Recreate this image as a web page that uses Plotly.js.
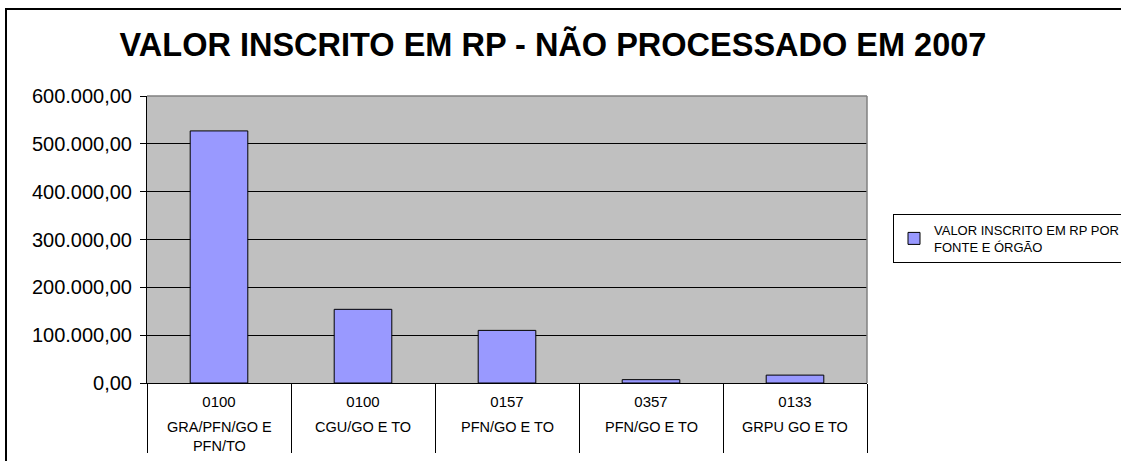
<!DOCTYPE html>
<html>
<head>
<meta charset="utf-8">
<script src="https://cdn.plot.ly/plotly-3.0.1.min.js"></script>
<style>
html,body{margin:0;padding:0;background:#fff;}
#chart{width:1121px;height:461px;}
</style>
</head>
<body>
<div id="chart"></div>
<script>
// ---- data ----
var codes = ['0100', '0100', '0157', '0357', '0133'];
var orgs = ['GRA/PFN/GO E<br>PFN/TO', 'CGU/GO E TO', 'PFN/GO E TO', 'PFN/GO E TO', 'GRPU GO E TO'];
var values = [527000, 154000, 110000, 7000, 16500];
var seriesName = 'VALOR INSCRITO EM RP POR<br>FONTE E ÓRGÃO';
var chartTitle = 'VALOR INSCRITO EM RP - NÃO PROCESSADO EM 2007';

// unique category keys built from code + organ
var keys = codes.map(function (c, i) { return c + ' | ' + orgs[i].replace('<br>', ' '); });

// ---- geometry (pixels) ----
var W = 1121, H = 461;
var M = {l: 147, r: 254, t: 96, b: 78};
var plotW = W - M.l - M.r, plotH = H - M.t - M.b;
function px2x(px) { return (px - M.l) / plotW; }
function py2y(py) { return (H - M.b - py) / plotH; }

var font = 'Arial, "Liberation Sans", sans-serif';

var trace = {
  type: 'bar',
  x: keys,
  y: values,
  name: seriesName,
  width: 0.4,
  marker: {color: '#9999FF', line: {color: '#000000', width: 1}},
  showlegend: true,
  hoverinfo: 'none'
};

var annotations = keys.map(function (k, i) {
  return {
    x: k, xref: 'x',
    y: py2y(417), yref: 'paper',
    yanchor: 'top', xanchor: 'center',
    text: orgs[i], showarrow: false,
    font: {family: font, size: 14.5, color: '#000'},
    align: 'center'
  };
});

var shapes = [
  // plot area border (top and right, gray)
  {type: 'line', xref: 'paper', yref: 'paper', x0: 0, x1: 1, y0: 1, y1: 1,
   line: {color: '#808080', width: 1.5}, layer: 'above'},
  {type: 'line', xref: 'paper', yref: 'paper', x0: 1, x1: 1, y0: 0, y1: 1,
   line: {color: '#808080', width: 1.5}, layer: 'above'},
  // outer chart border
  {type: 'rect', xref: 'paper', yref: 'paper',
   x0: px2x(6), x1: px2x(1200), y0: py2y(520), y1: py2y(9),
   line: {color: '#000', width: 2}, fillcolor: 'rgba(0,0,0,0)', layer: 'above'}
];

var layout = {
  width: W, height: H,
  margin: M,
  paper_bgcolor: '#ffffff',
  plot_bgcolor: '#C0C0C0',
  separators: ',.',
  showlegend: true,
  title: {
    text: '<b>' + chartTitle + '</b>',
    font: {family: font, size: 32.5, color: '#000'},
    xref: 'container', x: 553 / W, xanchor: 'center',
    yref: 'container', y: 1 - 45 / H, yanchor: 'middle'
  },
  xaxis: {
    type: 'category',
    tickmode: 'array',
    tickvals: keys,
    ticktext: codes,
    tickson: 'boundaries',
    ticks: 'outside',
    ticklen: 69,
    tickwidth: 1,
    tickcolor: '#000',
    ticklabelstandoff: 5,
    showline: true, linecolor: '#000', linewidth: 1,
    showgrid: false, zeroline: false,
    tickfont: {family: font, size: 15, color: '#000'},
    range: [-0.5, 4.5],
    fixedrange: true
  },
  yaxis: {
    range: [0, 600000],
    dtick: 100000,
    tick0: 0,
    tickformat: ',.2f',
    ticks: 'outside', ticklen: 6, tickwidth: 1, tickcolor: '#000',
    ticklabelstandoff: 4,
    showline: true, linecolor: '#000', linewidth: 1,
    showgrid: true, gridcolor: '#000', gridwidth: 1,
    zeroline: false,
    tickfont: {family: font, size: 20, color: '#000'},
    fixedrange: true
  },
  legend: {
    xref: 'container', yref: 'container',
    x: 893 / W, y: 1 - 214 / H,
    xanchor: 'left', yanchor: 'top',
    bgcolor: '#fff', bordercolor: '#000', borderwidth: 1,
    font: {family: font, size: 13, color: '#000'},
    itemwidth: 30
  },
  annotations: annotations,
  shapes: shapes
};

Plotly.newPlot('chart', [trace], layout, {displayModeBar: false, staticPlot: true});
</script>
</body>
</html>
